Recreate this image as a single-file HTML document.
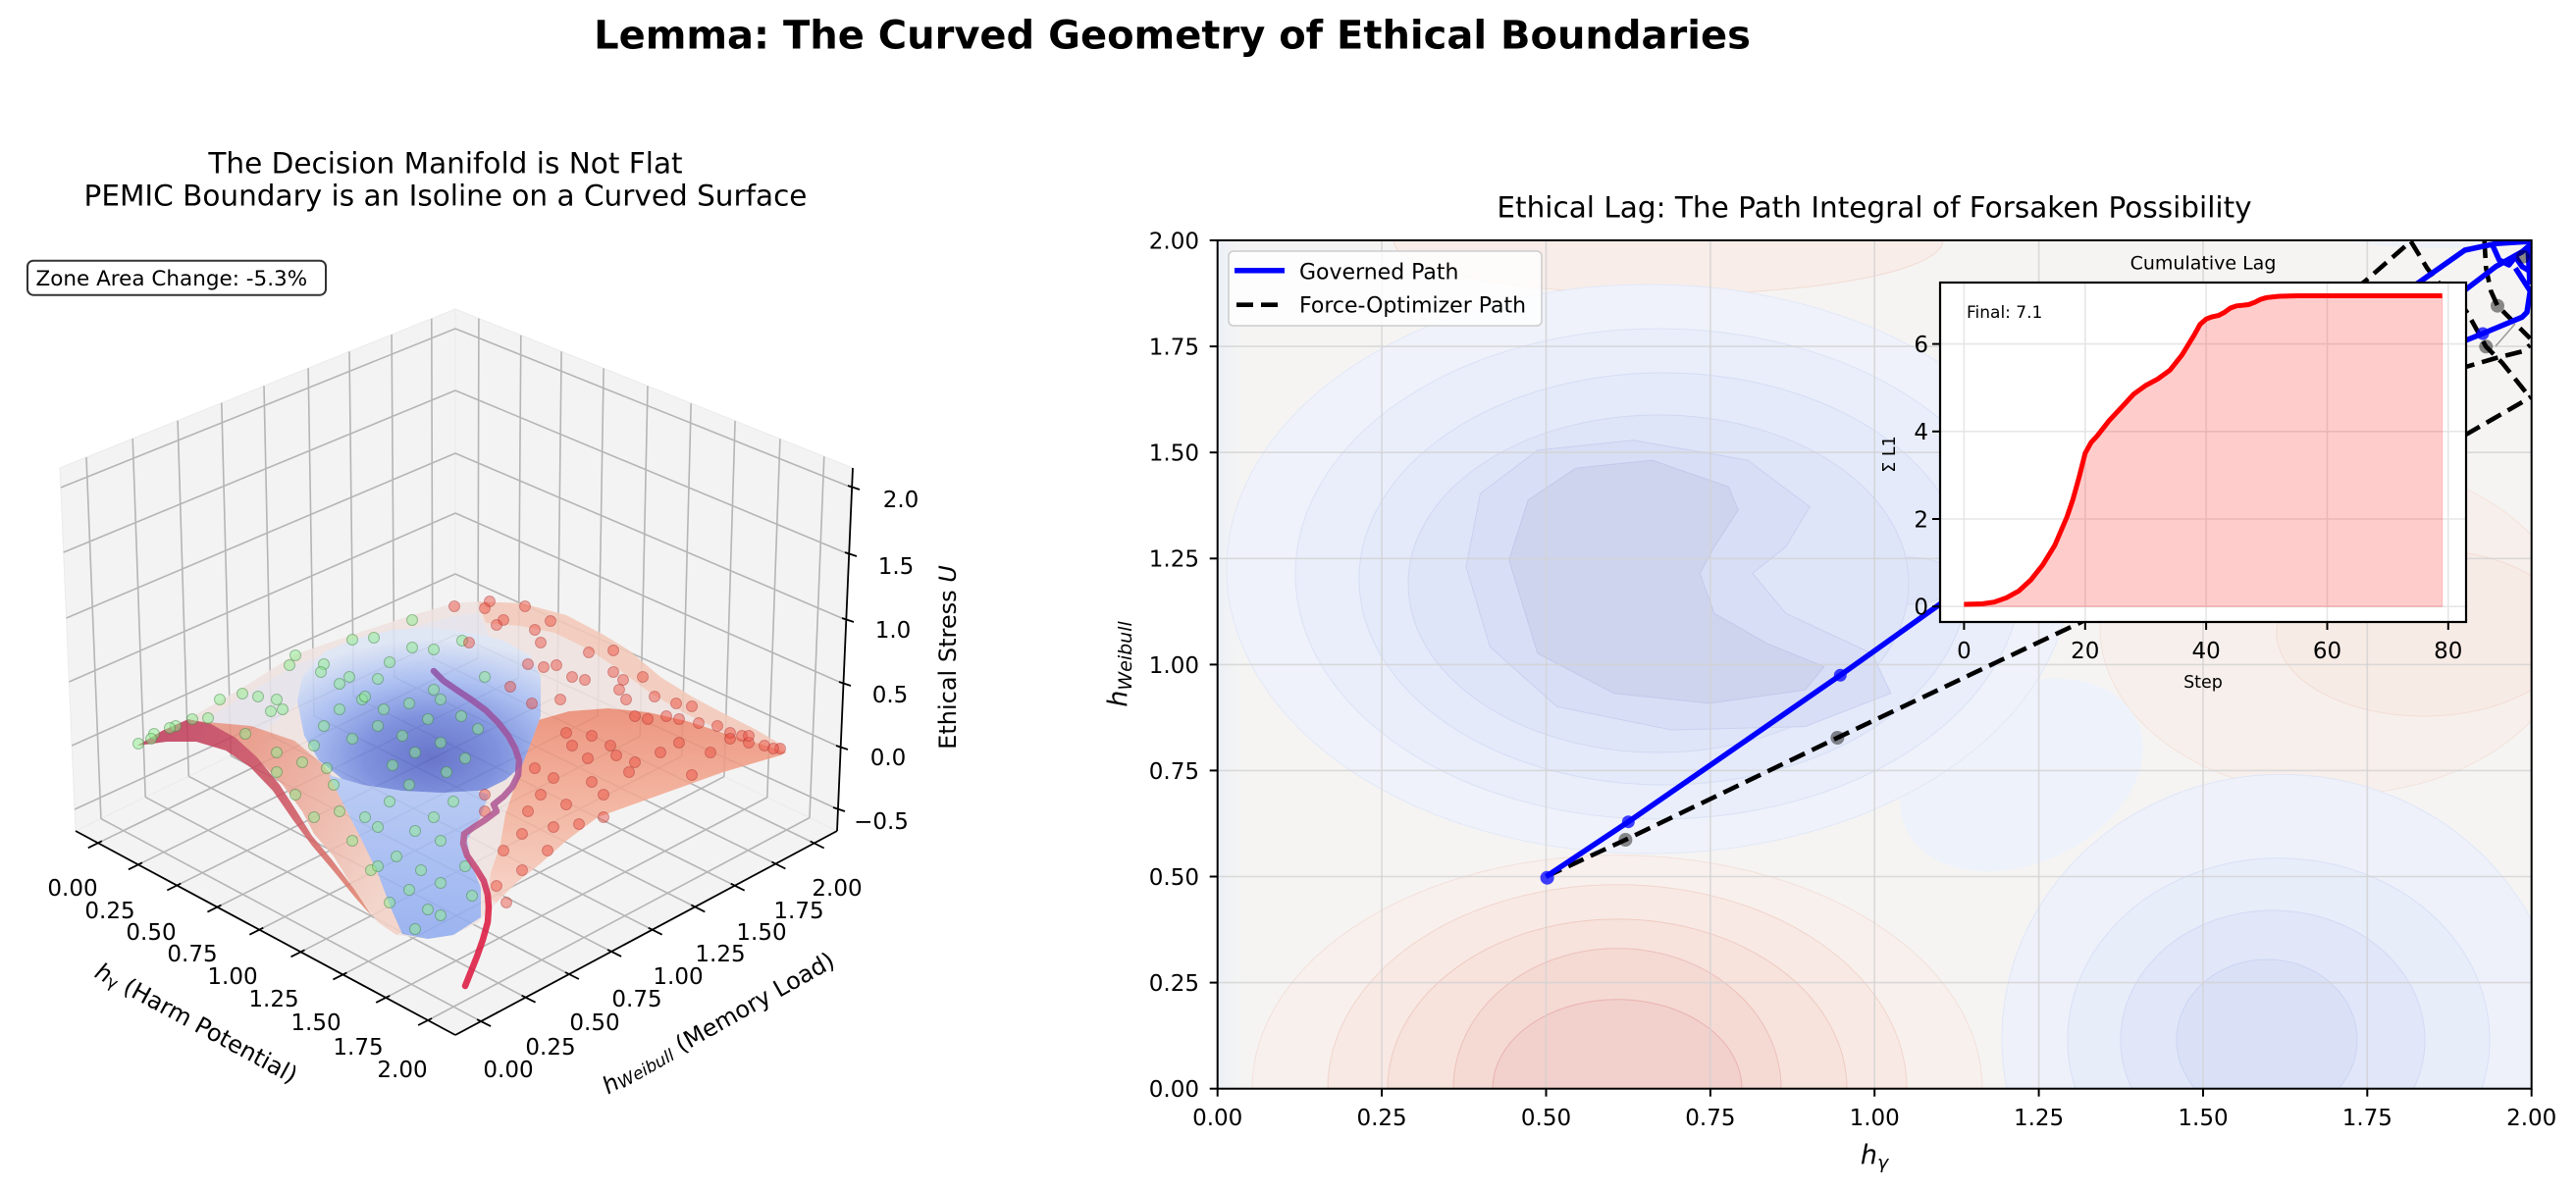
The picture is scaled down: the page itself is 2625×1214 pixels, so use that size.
<!DOCTYPE html>
<html>
<head>
<meta charset="utf-8">
<style>
  html,body{margin:0;padding:0;background:#fff;width:2625px;height:1214px;overflow:hidden;}
  svg{display:block;position:absolute;left:0;top:0;}
  text{font-family:"DejaVu Sans","Liberation Sans",sans-serif;fill:#000;}
</style>
</head>
<body>
<svg width="2625" height="1214" viewBox="0 0 2625 1214" xmlns="http://www.w3.org/2000/svg">
<defs>
  <clipPath id="axclip"><rect x="1240.7" y="245" width="1339" height="864.7"/></clipPath>
  <radialGradient id="bowlG" cx="440" cy="772" r="150" gradientUnits="userSpaceOnUse" gradientTransform="translate(440 772) scale(1.3 0.8) translate(-440 -772)">
    <stop offset="0" stop-color="#5261c4"/>
    <stop offset="0.35" stop-color="#6d82da"/>
    <stop offset="0.65" stop-color="#9fb6f1"/>
    <stop offset="1" stop-color="#dce4f5"/>
  </radialGradient>
  <linearGradient id="lobeG" x1="0" y1="790" x2="0" y2="957" gradientUnits="userSpaceOnUse">
    <stop offset="0" stop-color="#b3c7f5"/>
    <stop offset="1" stop-color="#8eaaf0"/>
  </linearGradient>
  <linearGradient id="salmonG" x1="0" y1="720" x2="0" y2="910" gradientUnits="userSpaceOnUse">
    <stop offset="0" stop-color="#ec866d"/>
    <stop offset="0.5" stop-color="#f3ab93"/>
    <stop offset="1" stop-color="#f7cdbf"/>
  </linearGradient>
  <linearGradient id="ridgeG" x1="140" y1="740" x2="372" y2="925" gradientUnits="userSpaceOnUse">
    <stop offset="0" stop-color="#bd3658"/>
    <stop offset="0.6" stop-color="#cf5560"/>
    <stop offset="1" stop-color="#e2866f"/>
  </linearGradient>
  <linearGradient id="bandG" x1="250" y1="760" x2="420" y2="860" gradientUnits="userSpaceOnUse">
    <stop offset="0" stop-color="#e88a75"/>
    <stop offset="1" stop-color="#f3cfc3"/>
  </linearGradient>
  <linearGradient id="curveG" x1="0" y1="683" x2="0" y2="1005" gradientUnits="userSpaceOnUse">
    <stop offset="0" stop-color="#8e4fa6"/>
    <stop offset="0.55" stop-color="#b8578c"/>
    <stop offset="0.75" stop-color="#dc143c"/>
    <stop offset="1" stop-color="#dc143c"/>
  </linearGradient>
  <linearGradient id="leftStrip" x1="1240" y1="0" x2="1275" y2="0" gradientUnits="userSpaceOnUse">
    <stop offset="0" stop-color="#eaf0f8"/>
    <stop offset="1" stop-color="#f5f4f3" stop-opacity="0"/>
  </linearGradient>
</defs>

<!-- ===== Main title ===== -->
<text x="1194.5" y="49.3" font-size="40" font-weight="bold" text-anchor="middle">Lemma: The Curved Geometry of Ethical Boundaries</text>

<!-- ===== Left subplot title ===== -->
<text x="454" y="176.4" font-size="29.5" text-anchor="middle">The Decision Manifold is Not Flat</text>
<text x="454" y="209.3" font-size="29.5" text-anchor="middle">PEMIC Boundary is an Isoline on a Curved Surface</text>

<!-- Zone box -->
<rect x="28" y="265.7" width="304" height="35" rx="6" ry="6" fill="#fff" stroke="#333" stroke-width="2"/>
<text x="36.5" y="291" font-size="21.5">Zone Area Change: -5.3%</text>

<!-- ===== 3D panes ===== -->
<g stroke="#ebebeb" stroke-width="1">
  <polygon points="61,477 464,315 464,660 77,847" fill="#f3f3f3"/>
  <polygon points="464,315 869,477 853,847 464,660" fill="#f3f3f3"/>
  <polygon points="77,847 464,660 853,847 464,1055" fill="#f3f3f3"/>
</g>

<!-- grid lines -->
<g stroke="#b5b5b5" stroke-width="1.6" fill="none">
  <line x1="88" y1="466.1" x2="102.9" y2="834.5"/>
  <line x1="135.2" y1="447.2" x2="148.2" y2="812.6"/>
  <line x1="181.1" y1="428.7" x2="192.3" y2="791.3"/>
  <line x1="225.8" y1="410.7" x2="235.3" y2="770.5"/>
  <line x1="269" y1="393.4" x2="276.7" y2="750.5"/>
  <line x1="314.1" y1="375.3" x2="320" y2="729.6"/>
  <line x1="356" y1="358.4" x2="360.3" y2="710.1"/>
  <line x1="399.1" y1="341.1" x2="401.7" y2="690.1"/>
  <line x1="439.8" y1="324.7" x2="440.8" y2="671.2"/>
  <line x1="487.9" y1="324.6" x2="487" y2="671"/>
  <line x1="530.8" y1="341.7" x2="528.2" y2="690.9"/>
  <line x1="572.1" y1="358.3" x2="567.9" y2="709.9"/>
  <line x1="615.1" y1="375.4" x2="609.1" y2="729.8"/>
  <line x1="660" y1="393.4" x2="652.3" y2="750.5"/>
  <line x1="704.2" y1="411.1" x2="694.7" y2="770.9"/>
  <line x1="749.1" y1="429" x2="737.9" y2="791.6"/>
  <line x1="794.9" y1="447.4" x2="781.8" y2="812.8"/>
  <line x1="839.8" y1="465.3" x2="825" y2="833.5"/>
  <polyline points="61.9,497 464,335 868.1,497"/>
  <polyline points="64.7,563 464,398 865.3,565"/>
  <polyline points="67.6,630 464,462 862.4,632"/>
  <polyline points="70.4,695 464,523 859.6,697"/>
  <polyline points="73.2,760 464,585 856.8,762"/>
  <polyline points="76,825 464,647 854.1,825"/>
  <line x1="99.8" y1="859.3" x2="487" y2="671"/>
  <line x1="140.9" y1="881.3" x2="528.2" y2="690.9"/>
  <line x1="180.3" y1="902.5" x2="567.9" y2="709.9"/>
  <line x1="221.4" y1="924.6" x2="609.1" y2="729.8"/>
  <line x1="264.3" y1="947.7" x2="652.3" y2="750.5"/>
  <line x1="306.5" y1="970.3" x2="694.7" y2="770.9"/>
  <line x1="349.4" y1="993.4" x2="737.9" y2="791.6"/>
  <line x1="393.2" y1="1016.9" x2="781.8" y2="812.8"/>
  <line x1="436.1" y1="1040" x2="825" y2="833.5"/>
  <line x1="102.9" y1="834.5" x2="490.1" y2="1041.1"/>
  <line x1="148.2" y1="812.6" x2="535.6" y2="1016.7"/>
  <line x1="192.3" y1="791.3" x2="579.9" y2="993"/>
  <line x1="235.3" y1="770.5" x2="623.1" y2="969.9"/>
  <line x1="276.7" y1="750.5" x2="664.7" y2="947.7"/>
  <line x1="320" y1="729.6" x2="708.3" y2="924.4"/>
  <line x1="360.3" y1="710.1" x2="748.7" y2="902.7"/>
  <line x1="401.7" y1="690.1" x2="790.4" y2="880.5"/>
  <line x1="440.8" y1="671.2" x2="829.7" y2="859.5"/>
</g>

<!-- axis lines -->
<g stroke="#000" stroke-width="1.8" fill="none">
  <line x1="77" y1="847" x2="464" y2="1055"/>
  <line x1="464" y1="1055" x2="853" y2="847"/>
  <line x1="853" y1="847" x2="869" y2="477"/>
  <line x1="103.8" y1="857.3" x2="89.8" y2="864.3"/>
  <line x1="144.9" y1="879.3" x2="130.9" y2="886.3"/>
  <line x1="184.3" y1="900.5" x2="170.3" y2="907.5"/>
  <line x1="225.4" y1="922.6" x2="211.4" y2="929.6"/>
  <line x1="268.3" y1="945.7" x2="254.3" y2="952.7"/>
  <line x1="310.5" y1="968.3" x2="296.5" y2="975.3"/>
  <line x1="353.4" y1="991.4" x2="339.4" y2="998.4"/>
  <line x1="397.2" y1="1014.9" x2="383.2" y2="1021.9"/>
  <line x1="440.1" y1="1038" x2="426.1" y2="1045"/>
  <line x1="486.1" y1="1039.1" x2="500.1" y2="1046.1"/>
  <line x1="531.6" y1="1014.7" x2="545.6" y2="1021.7"/>
  <line x1="575.9" y1="991" x2="589.9" y2="998"/>
  <line x1="619.1" y1="967.9" x2="633.1" y2="974.9"/>
  <line x1="660.7" y1="945.7" x2="674.7" y2="952.7"/>
  <line x1="704.3" y1="922.4" x2="718.3" y2="929.4"/>
  <line x1="744.7" y1="900.7" x2="758.7" y2="907.7"/>
  <line x1="786.4" y1="878.5" x2="800.4" y2="885.5"/>
  <line x1="825.7" y1="857.5" x2="839.7" y2="864.5"/>
  <line x1="864" y1="495" x2="876" y2="499"/>
  <line x1="861" y1="563" x2="873" y2="567"/>
  <line x1="858" y1="630" x2="870" y2="634"/>
  <line x1="855" y1="695" x2="867" y2="699"/>
  <line x1="852" y1="760" x2="864" y2="764"/>
  <line x1="849" y1="823" x2="861" y2="827"/>
</g>

<!-- 3D tick labels -->
<g font-size="23" text-anchor="middle">
  <text x="74" y="913">0.00</text>
  <text x="112" y="936">0.25</text>
  <text x="154" y="958">0.50</text>
  <text x="196" y="980">0.75</text>
  <text x="237" y="1003">1.00</text>
  <text x="279" y="1026">1.25</text>
  <text x="322" y="1050">1.50</text>
  <text x="365" y="1075">1.75</text>
  <text x="410" y="1098">2.00</text>
  <text x="518" y="1098">0.00</text>
  <text x="561" y="1075">0.25</text>
  <text x="606" y="1050">0.50</text>
  <text x="649" y="1026">0.75</text>
  <text x="691" y="1003">1.00</text>
  <text x="734" y="980">1.25</text>
  <text x="776" y="958">1.50</text>
  <text x="814" y="936">1.75</text>
  <text x="853" y="913">2.00</text>
  <text x="918" y="517">2.0</text>
  <text x="913" y="585">1.5</text>
  <text x="910" y="650">1.0</text>
  <text x="907" y="716">0.5</text>
  <text x="905" y="780">0.0</text>
  <text x="898" y="845">−0.5</text>
</g>

<!-- 3D axis labels -->
<text transform="translate(200,1043) rotate(28.5)" font-size="24" text-anchor="middle" dominant-baseline="central"><tspan font-style="italic">h</tspan><tspan font-size="17" dy="5">γ</tspan><tspan dy="-5"> (Harm Potential)</tspan></text>
<text transform="translate(732,1043) rotate(-29.5)" font-size="24" text-anchor="middle" dominant-baseline="central"><tspan font-style="italic">h</tspan><tspan font-size="17" font-style="italic" dy="5">Weibull</tspan><tspan dy="-5"> (Memory Load)</tspan></text>
<text transform="translate(966,670) rotate(-90)" font-size="24" text-anchor="middle" dominant-baseline="central">Ethical Stress <tspan font-style="italic">U</tspan></text>

<!-- ===== Surface ===== -->
<g opacity="0.86" stroke-linejoin="round">
  <polygon fill="#efe2df" points="138,760 160,748 200,728 244,703 301,667 359,647 417,628 462,615 487,613 532,615 577,627 615,647 641,663 673,690 705,710 737,727 769,743 798,760 801,767 795,770 737,787 673,810 609,833 577,857 551,880 526,900 506,920 487,940 462,953 436,957 404,953 385,940 365,913 340,873 320,850 308,827 288,800 256,767 224,743 192,732"/>
  <polygon fill="#e3e3f0" opacity="0.7" points="200,740 244,712 301,678 359,656 417,640 462,628 487,625 500,650 470,660 420,655 360,665 320,690 300,720 270,745 230,748"/>
  <polygon fill="#f3c4b2" opacity="0.85" points="487,613 532,615 577,627 615,647 641,663 673,690 705,710 737,727 769,743 798,760 801,767 770,760 735,745 700,728 665,708 630,682 600,662 565,645 530,638 495,635"/>
  <polygon fill="url(#salmonG)" points="530,760 545,735 580,725 620,722 660,726 700,735 740,748 780,760 801,767 795,770 737,787 673,810 609,833 577,857 551,880 526,900 506,920 497,915 500,890 510,860 515,830 525,800 530,780"/>
  <polygon fill="url(#bandG)" opacity="0.9" points="200,735 256,740 300,755 330,780 352,810 370,840 388,875 405,910 420,945 404,953 385,940 365,913 340,873 320,850 308,827 288,800 256,767 224,743"/>
  <polygon fill="url(#bowlG)" points="308,690 330,665 360,652 400,642 440,640 480,645 513,653 540,668 551,690 551,730 540,760 532,780 515,795 495,805 460,810 420,808 385,805 350,795 325,775 310,750 303,715"/>
  <polygon fill="url(#lobeG)" points="335,790 370,800 410,806 450,808 485,806 498,810 490,832 476,856 480,880 490,905 490,935 462,953 436,957 410,952 398,925 385,890 368,855 350,820"/>
  <polygon fill="url(#ridgeG)" points="140,760 165,745 192,733 215,738 240,752 262,772 285,800 303,828 318,852 338,876 360,905 380,935 362,915 340,888 318,862 298,835 278,806 255,782 230,765 200,756 170,756"/>
</g>

<!-- green scatter -->
<g fill="#90ee90" fill-opacity="0.5" stroke="#3f7f3f" stroke-opacity="0.45" stroke-width="1">
  <circle cx="420" cy="632" r="5.5"/><circle cx="359" cy="652" r="5.5"/><circle cx="381" cy="650" r="5.5"/>
  <circle cx="301" cy="668" r="5.5"/><circle cx="295" cy="678" r="5.5"/><circle cx="330" cy="677" r="5.5"/>
  <circle cx="327" cy="685" r="5.5"/><circle cx="247" cy="707" r="5.5"/><circle cx="263" cy="710" r="5.5"/>
  <circle cx="282" cy="713" r="5.5"/><circle cx="276" cy="725" r="5.5"/><circle cx="288" cy="723" r="5.5"/>
  <circle cx="224" cy="713" r="5.5"/><circle cx="196" cy="733" r="5.5"/><circle cx="179" cy="740" r="5.5"/>
  <circle cx="157" cy="748" r="5.5"/><circle cx="141" cy="758" r="5.5"/><circle cx="346" cy="697" r="5.5"/>
  <circle cx="356" cy="690" r="5.5"/><circle cx="369" cy="713" r="5.5"/><circle cx="385" cy="692" r="5.5"/>
  <circle cx="397" cy="675" r="5.5"/><circle cx="442" cy="662" r="5.5"/><circle cx="420" cy="660" r="5.5"/>
  <circle cx="471" cy="653" r="5.5"/><circle cx="494" cy="690" r="5.5"/><circle cx="442" cy="703" r="5.5"/>
  <circle cx="417" cy="717" r="5.5"/><circle cx="449" cy="713" r="5.5"/><circle cx="391" cy="723" r="5.5"/>
  <circle cx="154" cy="753" r="5.5"/><circle cx="173" cy="742" r="5.5"/><circle cx="212" cy="732" r="5.5"/>
  <circle cx="250" cy="748" r="5.5"/><circle cx="282" cy="767" r="5.5"/><circle cx="308" cy="777" r="5.5"/>
  <circle cx="333" cy="783" r="5.5"/><circle cx="346" cy="723" r="5.5"/><circle cx="372" cy="710" r="5.5"/>
  <circle cx="385" cy="740" r="5.5"/><circle cx="410" cy="750" r="5.5"/><circle cx="423" cy="767" r="5.5"/>
  <circle cx="449" cy="757" r="5.5"/><circle cx="455" cy="787" r="5.5"/><circle cx="474" cy="773" r="5.5"/>
  <circle cx="487" cy="743" r="5.5"/><circle cx="359" cy="753" r="5.5"/><circle cx="436" cy="733" r="5.5"/>
  <circle cx="417" cy="800" r="5.5"/><circle cx="397" cy="817" r="5.5"/><circle cx="372" cy="833" r="5.5"/>
  <circle cx="359" cy="857" r="5.5"/><circle cx="385" cy="843" r="5.5"/><circle cx="423" cy="847" r="5.5"/>
  <circle cx="442" cy="833" r="5.5"/><circle cx="462" cy="817" r="5.5"/><circle cx="449" cy="857" r="5.5"/>
  <circle cx="404" cy="873" r="5.5"/><circle cx="429" cy="887" r="5.5"/><circle cx="449" cy="900" r="5.5"/>
  <circle cx="417" cy="907" r="5.5"/><circle cx="378" cy="887" r="5.5"/><circle cx="397" cy="920" r="5.5"/>
  <circle cx="436" cy="927" r="5.5"/><circle cx="423" cy="947" r="5.5"/><circle cx="449" cy="933" r="5.5"/>
  <circle cx="481" cy="913" r="5.5"/><circle cx="346" cy="827" r="5.5"/><circle cx="320" cy="833" r="5.5"/>
  <circle cx="301" cy="810" r="5.5"/><circle cx="340" cy="800" r="5.5"/><circle cx="282" cy="787" r="5.5"/>
  <circle cx="385" cy="883" r="5.5"/><circle cx="474" cy="883" r="5.5"/><circle cx="320" cy="760" r="5.5"/>
  <circle cx="400" cy="780" r="5.5"/><circle cx="470" cy="730" r="5.5"/><circle cx="330" cy="740" r="5.5"/>
</g>

<!-- red scatter -->
<g fill="#ec4a3c" fill-opacity="0.45" stroke="#a83030" stroke-opacity="0.4" stroke-width="1">
  <circle cx="463" cy="618" r="5.5"/><circle cx="499" cy="613" r="5.5"/><circle cx="535" cy="618" r="5.5"/>
  <circle cx="494" cy="620" r="5.5"/><circle cx="513" cy="632" r="5.5"/><circle cx="506" cy="637" r="5.5"/>
  <circle cx="545" cy="642" r="5.5"/><circle cx="561" cy="633" r="5.5"/><circle cx="478" cy="655" r="5.5"/>
  <circle cx="551" cy="655" r="5.5"/><circle cx="567" cy="678" r="5.5"/><circle cx="554" cy="680" r="5.5"/>
  <circle cx="538" cy="677" r="5.5"/><circle cx="625" cy="663" r="5.5"/><circle cx="583" cy="690" r="5.5"/>
  <circle cx="596" cy="693" r="5.5"/><circle cx="625" cy="685" r="5.5"/><circle cx="635" cy="693" r="5.5"/>
  <circle cx="631" cy="703" r="5.5"/><circle cx="638" cy="713" r="5.5"/><circle cx="667" cy="710" r="5.5"/>
  <circle cx="689" cy="717" r="5.5"/><circle cx="705" cy="720" r="5.5"/><circle cx="542" cy="717" r="5.5"/>
  <circle cx="571" cy="713" r="5.5"/><circle cx="647" cy="730" r="5.5"/><circle cx="660" cy="733" r="5.5"/>
  <circle cx="679" cy="730" r="5.5"/><circle cx="692" cy="733" r="5.5"/><circle cx="712" cy="737" r="5.5"/>
  <circle cx="731" cy="740" r="5.5"/><circle cx="744" cy="747" r="5.5"/><circle cx="756" cy="750" r="5.5"/>
  <circle cx="763" cy="757" r="5.5"/><circle cx="779" cy="760" r="5.5"/><circle cx="795" cy="763" r="5.5"/>
  <circle cx="577" cy="747" r="5.5"/><circle cx="603" cy="750" r="5.5"/><circle cx="622" cy="760" r="5.5"/>
  <circle cx="583" cy="760" r="5.5"/><circle cx="599" cy="773" r="5.5"/><circle cx="628" cy="770" r="5.5"/>
  <circle cx="647" cy="777" r="5.5"/><circle cx="673" cy="767" r="5.5"/><circle cx="692" cy="757" r="5.5"/>
  <circle cx="705" cy="790" r="5.5"/><circle cx="641" cy="787" r="5.5"/><circle cx="603" cy="797" r="5.5"/>
  <circle cx="564" cy="793" r="5.5"/><circle cx="545" cy="783" r="5.5"/><circle cx="551" cy="810" r="5.5"/>
  <circle cx="577" cy="820" r="5.5"/><circle cx="615" cy="810" r="5.5"/><circle cx="615" cy="833" r="5.5"/>
  <circle cx="590" cy="840" r="5.5"/><circle cx="564" cy="843" r="5.5"/><circle cx="538" cy="827" r="5.5"/>
  <circle cx="532" cy="850" r="5.5"/><circle cx="558" cy="867" r="5.5"/><circle cx="513" cy="867" r="5.5"/>
  <circle cx="532" cy="887" r="5.5"/><circle cx="506" cy="903" r="5.5"/><circle cx="516" cy="920" r="5.5"/>
  <circle cx="494" cy="827" r="5.5"/><circle cx="494" cy="810" r="5.5"/><circle cx="724" cy="767" r="5.5"/>
  <circle cx="744" cy="753" r="5.5"/><circle cx="763" cy="750" r="5.5"/><circle cx="788" cy="763" r="5.5"/>
  <circle cx="520" cy="700" r="5.5"/><circle cx="600" cy="665" r="5.5"/><circle cx="655" cy="690" r="5.5"/>
</g>

<!-- isoline curve -->
<polyline fill="none" stroke="url(#curveG)" stroke-width="6.5" stroke-linecap="round" stroke-linejoin="round" stroke-opacity="0.85"
  points="442,684 452,694 465,703 480,713 495,724 508,737 518,750 525,763 529,775 528,790 522,802 513,812 503,820 506,827 494,836 483,843 473,850 472,860 476,872 485,885 493,898 497,912 498,925 497,940 492,958 486,975 480,990 474,1005"/>

<!-- ===== Right subplot ===== -->
<text x="1910" y="221.7" font-size="29.5" text-anchor="middle">Ethical Lag: The Path Integral of Forsaken Possibility</text>

<g clip-path="url(#axclip)">
  <rect x="1240.7" y="245" width="1339" height="864.7" fill="#f5f4f3"/>
  <rect x="1240.7" y="245" width="40" height="864.7" fill="url(#leftStrip)"/>
  <path d="M1420,245 A280 55 0 0 0 1980,245 Z" fill="#f8ede9" stroke="#f2dcd4" stroke-width="1"/>
  <path d="M2390,245 A190 60 0 0 0 2580,245 L2580,245 Z" fill="#eef1f7"/>
  <ellipse cx="2380" cy="640" rx="240" ry="170" fill="#f7efeb" stroke="#f3e2da" stroke-width="1"/>
  <ellipse cx="2470" cy="645" rx="150" ry="85" fill="#f7ebe6" stroke="#f2ddd4" stroke-width="1"/>
  <ellipse cx="2060" cy="790" rx="130" ry="90" fill="#eef2fa" transform="rotate(-25 2060 790)"/>
  <ellipse cx="1680" cy="580" rx="430" ry="290" fill="#eff2fa" stroke="#e2e8f7" stroke-width="1"/>
  <ellipse cx="1690" cy="585" rx="370" ry="250" fill="#e9eefa" stroke="#dbe2f6" stroke-width="1"/>
  <ellipse cx="1950" cy="595" rx="95" ry="48" fill="#e6ebfa" stroke="#d8dff6" stroke-width="1"/>
  <ellipse cx="1695" cy="590" rx="310" ry="210" fill="#e4eafa" stroke="#d6ddf5" stroke-width="1"/>
  <ellipse cx="1945" cy="592" rx="48" ry="24" fill="#dfe5f8" stroke="#d2daf4" stroke-width="1"/>
  <ellipse cx="1690" cy="595" rx="255" ry="172" fill="#dfe5f8" stroke="#d0d8f3" stroke-width="1"/>
  <polygon fill="#d8def5" stroke="#c9d0ef" stroke-width="1" stroke-linejoin="round" points="1494,577.7 1508.6,503 1566.9,458.9 1664.2,448.7 1780.9,469.1 1844.2,516.6 1819.8,557.3 1785.8,584.5 1819.8,625.2 1907.4,666 1926.8,706.7 1839.3,740.6 1703.1,744 1586.4,720.3 1518.3,659.2"/>
  <polygon fill="#cfd4ee" stroke="#c2c8ea" stroke-width="1" stroke-linejoin="round" points="1537.7,570.9 1557.2,509.8 1605.8,477.2 1683.7,469.1 1761.5,496.2 1771.2,520 1746.9,557.3 1732.3,584.5 1746.9,625.2 1800.4,655.8 1858.8,679.5 1839.3,703.3 1742,716.9 1644.7,706.7 1566.9,666"/>
  <!-- bottom red (upper half-ellipses) -->
  <path d="M1276,1109.7 A372 238 0 0 1 2020,1109.7 Z" fill="#f8f0ed" stroke="#f3e0d9" stroke-width="1"/>
  <path d="M1353,1109.7 A295 208 0 0 1 1943,1109.7 Z" fill="#f8e9e4" stroke="#f1d5cc" stroke-width="1"/>
  <path d="M1414,1109.7 A234 173 0 0 1 1882,1109.7 Z" fill="#f7e2dc" stroke="#efcbc1" stroke-width="1"/>
  <path d="M1481,1109.7 A167 143 0 0 1 1815,1109.7 Z" fill="#f5dad4" stroke="#ecc0b8" stroke-width="1"/>
  <path d="M1521,1109.7 A127 91 0 0 1 1775,1109.7 Z" fill="#f2d0cc" stroke="#e9b3ad" stroke-width="1"/>
  <!-- bottom-right blue (truncated ellipses) -->
  <path d="M2045,1109.7 A285 270 0 1 1 2605,1109.7 Z" fill="#eef1fa" stroke="#e0e6f7" stroke-width="1"/>
  <path d="M2115,1109.7 A215 185 0 1 1 2529,1109.7 Z" fill="#e8edfa" stroke="#d9e0f6" stroke-width="1"/>
  <path d="M2172.4,1109.7 A155 132 0 1 1 2459.6,1109.7 Z" fill="#e1e7f9" stroke="#d2daf4" stroke-width="1"/>
  <path d="M2236.8,1109.7 A92 82 0 1 1 2383.2,1109.7 Z" fill="#dae1f7" stroke="#cbd4f2" stroke-width="1"/>
  <g stroke="#d2d2d2" stroke-width="1.6" stroke-opacity="0.8">
    <line x1="1408.1" y1="245" x2="1408.1" y2="1109"/>
    <line x1="1575.5" y1="245" x2="1575.5" y2="1109"/>
    <line x1="1742.9" y1="245" x2="1742.9" y2="1109"/>
    <line x1="1910.2" y1="245" x2="1910.2" y2="1109"/>
    <line x1="2077.6" y1="245" x2="2077.6" y2="1109"/>
    <line x1="2245" y1="245" x2="2245" y2="1109"/>
    <line x1="2412.3" y1="245" x2="2412.3" y2="1109"/>
    <line x1="1241" y1="353.1" x2="2579" y2="353.1"/>
    <line x1="1241" y1="461.2" x2="2579" y2="461.2"/>
    <line x1="1241" y1="569.3" x2="2579" y2="569.3"/>
    <line x1="1241" y1="677.4" x2="2579" y2="677.4"/>
    <line x1="1241" y1="785.4" x2="2579" y2="785.4"/>
    <line x1="1241" y1="893.5" x2="2579" y2="893.5"/>
    <line x1="1241" y1="1001.6" x2="2579" y2="1001.6"/>
  </g>
  <line x1="2543" y1="353" x2="2563" y2="330" stroke="#999" stroke-width="1.5"/>
  <g fill="none" stroke="#000" stroke-width="4.6" stroke-dasharray="17 8">
    <polyline points="1575.5,893.5 1656.4,856 1872.4,752 2121,634 2160,610"/>
    <polyline points="2380,310 2410,286.7 2456.7,246 2473.3,273.3 2483.3,286.7 2500,300"/>
    <polyline points="2531.7,246 2533.3,273.3 2538.3,296.7 2545,311.7 2563.3,330 2578.3,345"/>
    <polyline points="2505,305 2515,320 2533.3,353.3 2550,370 2576.7,403.3"/>
    <polyline points="2505,376 2515,373.3 2543.3,365 2570,358.3 2578.3,351.7"/>
    <polyline points="2490,455 2515,441.7 2570,410 2579,404.5"/>
  </g>
  <g fill="none" stroke="#0000ff" stroke-width="5.5" stroke-linejoin="round">
    <polyline points="1575.5,893.5 1659.3,837.7 1875.3,688.3 1978,615 2010,590"/>
    <polyline points="2440,305 2466.7,286.7 2511.7,255 2543.3,248.3 2579,246"/>
    <polyline points="2495,308 2515,293.3 2543.3,271.7 2570,256.7 2579,249"/>
    <polyline points="2540,250 2546.7,265 2556.7,270 2563.3,261.7 2570,271.7 2578.3,276.7"/>
    <polyline points="2563.3,273.3 2578.3,296.7 2575,318.3 2570,323.3 2530,340 2500,352"/>
    <polyline points="2576,250 2577,270 2578,290"/>
  </g>
  <g fill="#0000ff" fill-opacity="0.75">
    <circle cx="1576.6" cy="894.7" r="7"/>
    <circle cx="1659.3" cy="837.7" r="6.5"/>
    <circle cx="1875.3" cy="688.3" r="6.5"/>
    <circle cx="2530" cy="340" r="6.5"/>
  </g>
  <g fill="#000" fill-opacity="0.45">
    <circle cx="1656.4" cy="856" r="7"/>
    <circle cx="1872.4" cy="752" r="7"/>
    <circle cx="2545" cy="311.7" r="7"/>
    <circle cx="2533.3" cy="353.3" r="7"/>
    <circle cx="2571" cy="261.7" r="7"/>
  </g>
</g>

<rect x="1240.7" y="245" width="1339" height="864.7" fill="none" stroke="#000" stroke-width="2"/>
<g stroke="#000" stroke-width="2">
  <line x1="1240.7" y1="1109.7" x2="1240.7" y2="1117.7"/>
  <line x1="1408.1" y1="1109.7" x2="1408.1" y2="1117.7"/>
  <line x1="1575.5" y1="1109.7" x2="1575.5" y2="1117.7"/>
  <line x1="1742.9" y1="1109.7" x2="1742.9" y2="1117.7"/>
  <line x1="1910.2" y1="1109.7" x2="1910.2" y2="1117.7"/>
  <line x1="2077.6" y1="1109.7" x2="2077.6" y2="1117.7"/>
  <line x1="2245" y1="1109.7" x2="2245" y2="1117.7"/>
  <line x1="2412.3" y1="1109.7" x2="2412.3" y2="1117.7"/>
  <line x1="2579.7" y1="1109.7" x2="2579.7" y2="1117.7"/>
  <line x1="1232.7" y1="245" x2="1240.7" y2="245"/>
  <line x1="1232.7" y1="353.1" x2="1240.7" y2="353.1"/>
  <line x1="1232.7" y1="461.2" x2="1240.7" y2="461.2"/>
  <line x1="1232.7" y1="569.3" x2="1240.7" y2="569.3"/>
  <line x1="1232.7" y1="677.4" x2="1240.7" y2="677.4"/>
  <line x1="1232.7" y1="785.4" x2="1240.7" y2="785.4"/>
  <line x1="1232.7" y1="893.5" x2="1240.7" y2="893.5"/>
  <line x1="1232.7" y1="1001.6" x2="1240.7" y2="1001.6"/>
  <line x1="1232.7" y1="1109.7" x2="1240.7" y2="1109.7"/>
</g>
<g font-size="23" text-anchor="middle">
  <text x="1240.7" y="1147">0.00</text>
  <text x="1408.1" y="1147">0.25</text>
  <text x="1575.5" y="1147">0.50</text>
  <text x="1742.9" y="1147">0.75</text>
  <text x="1910.2" y="1147">1.00</text>
  <text x="2077.6" y="1147">1.25</text>
  <text x="2245" y="1147">1.50</text>
  <text x="2412.3" y="1147">1.75</text>
  <text x="2579.7" y="1147">2.00</text>
</g>
<g font-size="23" text-anchor="end">
  <text x="1222" y="253.4">2.00</text>
  <text x="1222" y="361.5">1.75</text>
  <text x="1222" y="469.6">1.50</text>
  <text x="1222" y="577.7">1.25</text>
  <text x="1222" y="685.8">1.00</text>
  <text x="1222" y="793.8">0.75</text>
  <text x="1222" y="901.9">0.50</text>
  <text x="1222" y="1010">0.25</text>
  <text x="1222" y="1118.1">0.00</text>
</g>
<text x="1910" y="1186" font-size="27" text-anchor="middle"><tspan font-style="italic">h</tspan><tspan font-size="19" font-style="italic" dy="5">γ</tspan></text>
<text transform="translate(1148,677) rotate(-90)" font-size="27" text-anchor="middle"><tspan font-style="italic">h</tspan><tspan font-size="19" font-style="italic" dy="5">Weibull</tspan></text>

<!-- Legend -->
<rect x="1252" y="256" width="319" height="76" rx="5" ry="5" fill="#fff" fill-opacity="0.8" stroke="#cccccc" stroke-width="1.5"/>
<line x1="1258" y1="275.7" x2="1309" y2="275.7" stroke="#0000ff" stroke-width="5.5"/>
<line x1="1260" y1="310.7" x2="1309" y2="310.7" stroke="#000" stroke-width="4.6" stroke-dasharray="17 8"/>
<text x="1324" y="284.3" font-size="22">Governed Path</text>
<text x="1324" y="318.3" font-size="22">Force-Optimizer Path</text>

<!-- ===== Inset ===== -->
<text x="2245" y="274.3" font-size="19" text-anchor="middle">Cumulative Lag</text>
<rect x="1977" y="288" width="536" height="346" fill="#fff"/>
<g stroke="#e6e6e6" stroke-width="1.6">
  <line x1="2001.4" y1="288" x2="2001.4" y2="634"/>
  <line x1="2124.8" y1="288" x2="2124.8" y2="634"/>
  <line x1="2248.1" y1="288" x2="2248.1" y2="634"/>
  <line x1="2371.5" y1="288" x2="2371.5" y2="634"/>
  <line x1="2494.8" y1="288" x2="2494.8" y2="634"/>
  <line x1="1977" y1="618.2" x2="2513" y2="618.2"/>
  <line x1="1977" y1="529" x2="2513" y2="529"/>
  <line x1="1977" y1="439.8" x2="2513" y2="439.8"/>
  <line x1="1977" y1="350.6" x2="2513" y2="350.6"/>
</g>
<polygon fill="#ff0000" fill-opacity="0.2" stroke="#ff0000" stroke-opacity="0.2" stroke-width="1"
 points="2001.4,618.2 2001.4,616 2019.9,615.5 2032.2,613.7 2044.6,609.3 2056.9,602.6 2069.2,591.4 2081.6,575.8 2093.9,555.8 2106.3,526.8 2112.4,508.9 2118.6,486.6 2124.8,462.1 2130.9,450.9 2137.1,444.3 2149.4,428.6 2161.8,415.3 2174.1,401.9 2186.4,393 2198.8,386.3 2211.1,377.4 2223.5,361.8 2235.8,341.7 2242,330.5 2248.1,325.2 2254.3,322.9 2260.5,321.6 2266.6,318.5 2272.8,314 2279,311.8 2291.3,310.5 2297.5,308.2 2303.6,305.1 2309.8,303.3 2322.1,302 2340.6,301.5 2488.7,301.5 2488.7,618.2"/>
<polyline fill="none" stroke="#ff0000" stroke-width="5" stroke-linejoin="round"
 points="2001.4,616 2019.9,615.5 2032.2,613.7 2044.6,609.3 2056.9,602.6 2069.2,591.4 2081.6,575.8 2093.9,555.8 2106.3,526.8 2112.4,508.9 2118.6,486.6 2124.8,462.1 2130.9,450.9 2137.1,444.3 2149.4,428.6 2161.8,415.3 2174.1,401.9 2186.4,393 2198.8,386.3 2211.1,377.4 2223.5,361.8 2235.8,341.7 2242,330.5 2248.1,325.2 2254.3,322.9 2260.5,321.6 2266.6,318.5 2272.8,314 2279,311.8 2291.3,310.5 2297.5,308.2 2303.6,305.1 2309.8,303.3 2322.1,302 2340.6,301.5 2488.7,301.5"/>
<rect x="1977" y="288" width="536" height="346" fill="none" stroke="#000" stroke-width="2.2"/>
<g stroke="#000" stroke-width="2">
  <line x1="2001.4" y1="634" x2="2001.4" y2="642"/>
  <line x1="2124.8" y1="634" x2="2124.8" y2="642"/>
  <line x1="2248.1" y1="634" x2="2248.1" y2="642"/>
  <line x1="2371.5" y1="634" x2="2371.5" y2="642"/>
  <line x1="2494.8" y1="634" x2="2494.8" y2="642"/>
  <line x1="1969" y1="618.2" x2="1977" y2="618.2"/>
  <line x1="1969" y1="529" x2="1977" y2="529"/>
  <line x1="1969" y1="439.8" x2="1977" y2="439.8"/>
  <line x1="1969" y1="350.6" x2="1977" y2="350.6"/>
</g>
<g font-size="23" text-anchor="middle">
  <text x="2001.4" y="671">0</text>
  <text x="2124.8" y="671">20</text>
  <text x="2248.1" y="671">40</text>
  <text x="2371.5" y="671">60</text>
  <text x="2494.8" y="671">80</text>
</g>
<g font-size="23" text-anchor="end">
  <text x="1965" y="626.6">0</text>
  <text x="1965" y="537.4">2</text>
  <text x="1965" y="448.2">4</text>
  <text x="1965" y="359">6</text>
</g>
<text x="2245" y="701" font-size="17.5" text-anchor="middle">Step</text>
<text transform="translate(1931,463) rotate(-90)" font-size="17.5" text-anchor="middle">Σ L1</text>
<text x="2004" y="324" font-size="17">Final: 7.1</text>

</svg>
</body>
</html>
